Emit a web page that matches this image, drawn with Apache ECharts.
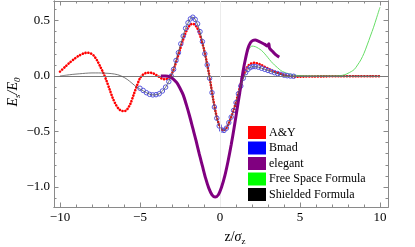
<!DOCTYPE html>
<html><head><meta charset="utf-8">
<script src="https://cdn.jsdelivr.net/npm/echarts@6/dist/echarts.min.js"></script>
<style>html,body{margin:0;padding:0;background:#fff}#c{width:415px;height:247px}</style>
</head><body><div id="c"></div>
<script>
// ---- data ----
const ayZ = [-10.0,-9.7,-9.4,-9.1,-8.8,-8.5,-8.3,-8.1,-7.9,-7.7,-7.5,-7.3,-7.1,-6.9,-6.7,-6.5,-6.3,-6.1,-5.95,-5.8,-5.6,-5.4,-5.2,-5.0,-4.8,-4.6,-4.4,-4.2,-4.0,-3.8,-3.6,-3.4,-3.25,-3.1,-2.95,-2.8,-2.65,-2.5,-2.35,-2.2,-2.05,-1.9,-1.75,-1.6,-1.45,-1.3,-1.15,-1.0,-0.85,-0.7,-0.55,-0.4,-0.25,-0.1,0.05,0.2,0.35,0.5,0.65,0.8,0.95,1.1,1.25,1.4,1.55,1.7,1.85,2.0,2.15,2.3,2.5,2.7,2.9,3.1,3.3,3.5,3.7,3.9,4.1,4.3,4.5,4.8,5.2,5.8,6.5,7.5,8.5,9.5,10.0];
const ayE = [0.04,0.08,0.12,0.155,0.185,0.205,0.21,0.205,0.185,0.145,0.09,0.03,-0.04,-0.12,-0.2,-0.26,-0.3,-0.315,-0.315,-0.3,-0.25,-0.17,-0.09,-0.02,0.015,0.028,0.03,0.025,0.01,-0.008,-0.025,-0.03,-0.02,0.0,0.04,0.1,0.17,0.24,0.31,0.37,0.42,0.455,0.47,0.465,0.44,0.39,0.32,0.24,0.14,0.03,-0.1,-0.23,-0.34,-0.42,-0.47,-0.49,-0.48,-0.44,-0.39,-0.33,-0.26,-0.18,-0.1,-0.02,0.04,0.08,0.105,0.115,0.12,0.115,0.105,0.09,0.075,0.06,0.047,0.035,0.025,0.015,0.007,0.0,-0.004,-0.006,-0.005,-0.004,-0.003,-0.002,-0.002,-0.002,-0.002];

const bmadZ = [-5.0,-4.8,-4.6,-4.4,-4.2,-4.0,-3.8,-3.6,-3.4,-3.2,-3.05,-2.9,-2.75,-2.6,-2.45,-2.3,-2.15,-2.0,-1.85,-1.7,-1.55,-1.4,-1.25,-1.1,-0.95,-0.8,-0.65,-0.5,-0.35,-0.2,-0.05,0.1,0.25,0.4,0.55,0.7,0.85,1.0,1.15,1.3,1.45,1.6,1.75,1.9,2.05,2.2,2.4,2.6,2.8,3.0,3.2,3.4,3.6,3.8,4.0,4.2,4.4,4.6];
const bmadE = [-0.11,-0.13,-0.15,-0.165,-0.17,-0.168,-0.16,-0.135,-0.1,-0.05,0.0,0.06,0.14,0.21,0.29,0.36,0.43,0.48,0.515,0.53,0.51,0.47,0.4,0.31,0.2,0.1,-0.02,-0.15,-0.28,-0.38,-0.45,-0.485,-0.49,-0.47,-0.42,-0.37,-0.31,-0.24,-0.16,-0.09,-0.02,0.03,0.06,0.078,0.085,0.085,0.08,0.07,0.06,0.05,0.04,0.03,0.022,0.015,0.008,0.003,0.0,-0.002];

const elegantZ = [-3.7,-3.4,-3.1,-2.9,-2.7,-2.5,-2.3,-2.1,-1.9,-1.7,-1.5,-1.3,-1.1,-0.9,-0.7,-0.5,-0.3,-0.1,0.1,0.3,0.5,0.7,0.9,1.1,1.3,1.45,1.6,1.75,1.9,2.05,2.2,2.4,2.6,2.8,2.95,3.05,3.1,3.3,3.5,3.7];
const elegantE = [0.0,0.0,-0.01,-0.03,-0.06,-0.11,-0.17,-0.26,-0.36,-0.47,-0.58,-0.7,-0.81,-0.92,-1.01,-1.07,-1.09,-1.07,-1.0,-0.9,-0.77,-0.62,-0.45,-0.27,-0.09,0.05,0.16,0.25,0.3,0.32,0.325,0.315,0.3,0.285,0.27,0.29,0.25,0.22,0.19,0.17];

const freeZ = [1.6,1.8,2.0,2.2,2.4,2.6,2.8,3.0,3.2,3.4,3.6,3.8,4.0,4.3,4.6,5.0,6.0,7.0,7.5,7.8,8.0,8.2,8.4,8.6,8.8,9.0,9.2,9.4,9.6,9.8,10.0];
const freeE = [0.16,0.24,0.27,0.265,0.25,0.23,0.2,0.165,0.13,0.1,0.075,0.05,0.035,0.02,0.01,0.003,0.0,0.0,0.003,0.012,0.025,0.04,0.06,0.1,0.145,0.205,0.28,0.36,0.44,0.53,0.62];

const shieldZ = [-10.0,-9.6,-9.2,-8.8,-8.4,-8.0,-7.6,-7.2,-6.8,-6.4,-6.1,-5.8,-5.5,-5.2,-4.9,-4.6,-4.2,-3.8,-3.4,-3.05,-2.75,-2.45,-2.15,-1.85,-1.7,-1.55,-1.25,-0.95,-0.65,-0.35,-0.05,0.25,0.55,0.85,1.15,1.45,1.75,2.05,2.4,2.8,3.2,3.6,4.0,4.4,5.0,6.0,7.0,8.0,9.0,10.0];
const shieldE = [0.0,0.008,0.015,0.02,0.025,0.028,0.028,0.026,0.022,0.012,-0.005,-0.03,-0.065,-0.1,-0.125,-0.15,-0.17,-0.16,-0.1,0.0,0.14,0.29,0.43,0.515,0.53,0.51,0.4,0.2,-0.02,-0.28,-0.45,-0.49,-0.42,-0.31,-0.16,-0.02,0.06,0.085,0.08,0.06,0.04,0.022,0.008,0.0,0.0,0.0,0.0,0.0,0.0,0.0];

const seriesNames = ['A&Y','Bmad','elegant','Free Space Formula','Shielded Formula'];
const xMajor = [-10,-5,0,5,10];
const xMinor = [-10,-9,-8,-7,-6,-5,-4,-3,-2,-1,0,1,2,3,4,5,6,7,8,9,10];
const yMajor = [-1.0,-0.5,0.0,0.5];
const yMinor = [-1.1,-1.0,-0.9,-0.8,-0.7,-0.6,-0.5,-0.4,-0.3,-0.2,-0.1,0.0,0.1,0.2,0.3,0.4,0.5,0.6];

// ---- chart ----
const pairs = (zs, es) => zs.map((z, i) => [z, es[i]]);
const FONT = 'Liberation Serif';
const FRAME = '#8a8a8a';
const XMIN = -10.375, XMAX = 10.5, YMIN = -1.18, YMAX = 0.676;
const fmtX = v => (v < 0 ? '\u2212' : '') + Math.abs(v);
const fmtY = v => (v < 0 ? '\u2212' : '') + Math.abs(v).toFixed(1);

function xa(pos, ticks, len, labels) {
  return {type:'value', position:pos, min:XMIN, max:XMAX, splitLine:{show:false},
    axisLine:{show:true, onZero:false, lineStyle:{color:FRAME, width:1}},
    axisTick:{show:true, inside:true, length:len, customValues:ticks, lineStyle:{color:FRAME}},
    axisLabel:labels ? {show:true, customValues:xMajor, formatter:fmtX, margin:4, color:'#000', fontFamily:FONT, fontSize:13} : {show:false}};
}
function ya(pos, ticks, len, labels) {
  return {type:'value', position:pos, min:YMIN, max:YMAX, splitLine:{show:false},
    axisLine:{show:true, onZero:false, lineStyle:{color:FRAME, width:1}},
    axisTick:{show:true, inside:true, length:len, customValues:ticks, lineStyle:{color:FRAME}},
    axisLabel:labels ? {show:true, customValues:yMajor, formatter:fmtY, margin:4, color:'#000', fontFamily:FONT, fontSize:13} : {show:false}};
}

const colors = ['#ff0000','#0000ff','#800080','#00ff00','#000000'];

const option = {
  animation:false,
  grid:{left:54, right:27, top:1, bottom:40, containLabel:false},
  xAxis:[xa('bottom', xMajor, 4.5, true), xa('bottom', xMinor, 2.5, false), xa('top', xMajor, 4.5, false), xa('top', xMinor, 2.5, false)],
  yAxis:[ya('left', yMajor, 4.5, true), ya('left', yMinor, 2.5, false), ya('right', yMajor, 4.5, false), ya('right', yMinor, 2.5, false)],
  legend:{orient:'vertical', left:243, top:121, itemWidth:18, itemHeight:13, itemGap:2.5,
    textStyle:{fontFamily:FONT, fontSize:12, color:'#000', padding:[0,0,0,-2]},
    data:seriesNames.map((n, i) => ({name:n, icon:'rect', itemStyle:{color:colors[i], borderWidth:0}}))},
  series:[
    {type:'line', name:'zero', data:[], z:1, silent:true,
      markLine:{silent:true, symbol:'none', label:{show:false}, animation:false,
        data:[{yAxis:0, lineStyle:{color:'#7a7a7a', width:1, type:'solid'}},
              {xAxis:0, lineStyle:{color:'#ececec', width:1, type:'solid'}}]}},
    {type:'line', name:seriesNames[0], data:pairs(ayZ, ayE), smooth:0.3, showSymbol:false, z:3,
      lineStyle:{color:colors[0], width:2.6, type:[0.1,2.8], cap:'round'}, itemStyle:{color:colors[0]}},
    {type:'line', name:seriesNames[1], data:pairs(bmadZ, bmadE), showSymbol:true, symbol:'circle', symbolSize:4.5, z:4,
      lineStyle:{width:0, opacity:0}, itemStyle:{color:'rgba(255,255,255,0)', borderColor:'#5656dc', borderWidth:1}},
    {type:'line', name:seriesNames[2], data:pairs(elegantZ, elegantE), smooth:0.3, showSymbol:false, z:5,
      lineStyle:{color:colors[2], width:3}, itemStyle:{color:colors[2]}},
    {type:'line', name:seriesNames[3], data:pairs(freeZ, freeE), smooth:0.3, showSymbol:false, z:4,
      lineStyle:{color:'#66dd66', width:1}, itemStyle:{color:colors[3]}},
    {type:'line', name:seriesNames[4], data:pairs(shieldZ, shieldE), smooth:0.3, showSymbol:false, z:6,
      lineStyle:{color:'#555', width:0.8}, itemStyle:{color:colors[4]}}
  ],
  graphic:[
    {type:'text', x:13, y:92, rotation:Math.PI/2,
      style:{text:'{i|E}{s|s}{i|/E}{s|0}', align:'center', verticalAlign:'middle',
        rich:{i:{fontFamily:FONT, fontStyle:'italic', fontSize:14, lineHeight:18, verticalAlign:'middle', fill:'#000'},
              s:{fontFamily:FONT, fontStyle:'italic', fontSize:9, lineHeight:18, verticalAlign:'bottom', fill:'#000'}}}},
    {type:'text', x:235, y:237,
      style:{text:'{n|z/}{g|σ}{s|z}', align:'center', verticalAlign:'middle',
        rich:{n:{fontFamily:FONT, fontSize:14, lineHeight:18, verticalAlign:'middle', fill:'#000'},
              g:{fontFamily:FONT, fontStyle:'italic', fontSize:14, lineHeight:18, verticalAlign:'middle', fill:'#000'},
              s:{fontFamily:FONT, fontSize:9, lineHeight:18, verticalAlign:'bottom', fill:'#000'}}}}
  ]
};
const chart = echarts.init(document.getElementById('c'), null, {renderer:'canvas'});
chart.setOption(option);
</script></body></html>
